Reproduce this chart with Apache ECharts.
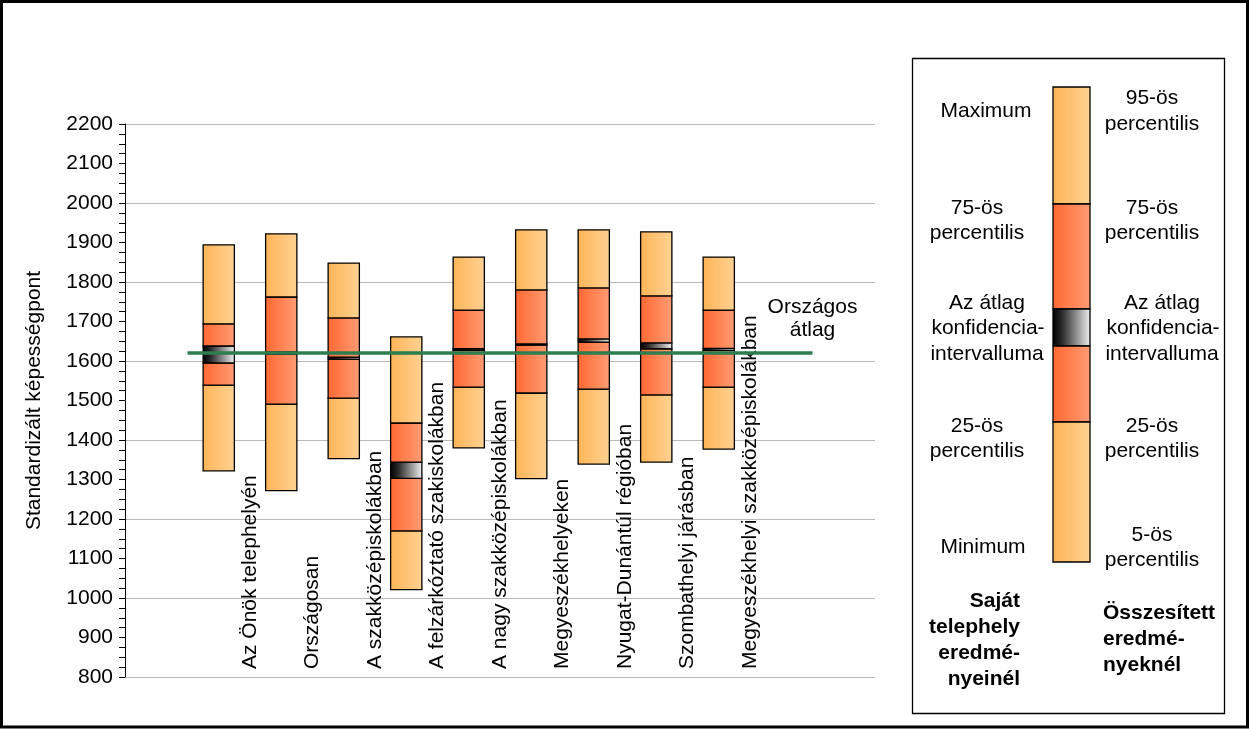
<!DOCTYPE html>
<html>
<head>
<meta charset="utf-8">
<script src="https://cdn.jsdelivr.net/npm/echarts@6/dist/echarts.min.js"></script>
<style>
html,body{margin:0;padding:0;background:#fff;}
#chart{width:1250px;height:729px;}
</style>
</head>
<body>
<div id="chart"></div>
<script>
// ---- data ----
const categories = ['Az Önök telephelyén','Országosan','A szakközépiskolákban','A felzárkóztató szakiskolákban','A nagy szakközépiskolákban','Megyeszékhelyeken','Nyugat-Dunántúl régióban','Szombathelyi járásban','Megyeszékhelyi szakközépiskolákban'];
const minVals    = [1322,1272,1353,1021,1380,1302,1339,1344,1377];
const p25Vals    = [1539,1491,1506,1170,1534,1519,1529,1514,1534];
const ciLowVals  = [1595,1617,1605,1303,1627,1640,1648,1631,1627];
const ciHighVals = [1638,1623,1610,1344,1631,1643,1656,1646,1632];
const p75Vals    = [1694,1762,1709,1443,1729,1780,1785,1765,1729];
const maxVals    = [1894,1922,1848,1661,1863,1932,1932,1927,1863];
const nationalAvg = 1620;
const yTicks = {min: 800, max: 2200, step: 100};

const FONT = "'Liberation Sans', Arial, sans-serif";
const G = echarts.graphic;
const orangeGrad = () => new G.LinearGradient(0,0,1,0,[{offset:0,color:'#FFB457'},{offset:1,color:'#FFD293'}]);
const redGrad = () => new G.LinearGradient(0,0,1,0,[{offset:0,color:'#FF6832'},{offset:1,color:'#FF9C74'}]);
const ciGrad = () => new G.LinearGradient(0,0,1,0,[{offset:0,color:'#000000'},{offset:0.25,color:'#2a2a2a'},{offset:1,color:'#f2f2f2'}]);

const boxData = categories.map((c,i)=>[i+1.5, minVals[i], p25Vals[i], ciLowVals[i], ciHighVals[i], p75Vals[i], maxVals[i]]);

function renderItem(params, api){
  const x = api.value(0);
  const vals = [1,2,3,4,5,6].map(k=>api.value(k));
  const w = api.size([1,0])[0]*0.5;
  const fills = [orangeGrad(), redGrad(), ciGrad(), redGrad(), orangeGrad()];
  const children = [];
  for(let s=0;s<5;s++){
    const top = api.coord([x, vals[s+1]]);
    const bot = api.coord([x, vals[s]]);
    children.push({type:'rect', shape:{x:top[0]-w/2, y:top[1], width:w, height:bot[1]-top[1]},
      style:{fill:fills[s], stroke:'#000', lineWidth:1.3}});
  }
  return {type:'group', children};
}

// ---- legend panel (graphic) ----
const legendBarX = 1053, legendBarW = 37;
const legendSegs = [[87,204,orangeGrad()],[204,309,redGrad()],[309,346,ciGrad()],[346,422,redGrad()],[422,562,orangeGrad()]];
const graphics = [];
graphics.push({type:'rect', shape:{x:1.5,y:1.5,width:1246,height:725.5}, style:{fill:null, stroke:'#000', lineWidth:3}, z:100});
graphics.push({type:'rect', shape:{x:912.5,y:58.5,width:312,height:655}, style:{fill:'#fff', stroke:'#000', lineWidth:1.3}});
legendSegs.forEach(s=>{
  graphics.push({type:'rect', shape:{x:legendBarX,y:s[0],width:legendBarW,height:s[1]-s[0]}, style:{fill:s[2], stroke:'#000', lineWidth:1.3}, z:10});
});
function txt(t, x, y, align, bold){
  graphics.push({type:'text', x:x, y:y, z:10, style:{text:t, fill:'#000', font:(bold?'bold ':'')+'21px '+FONT, textAlign:align||'center', textVerticalAlign:'middle'}});
}
// left column
txt('Maximum', 986, 111);
txt('75-ös', 977, 208); txt('percentilis', 977, 233);
txt('Az átlag', 987, 303); txt('konfidencia-', 988, 328); txt('intervalluma', 987, 354);
txt('25-ös', 977, 426); txt('percentilis', 977, 451);
txt('Minimum', 983, 547);
txt('Saját', 1020, 601, 'right', true); txt('telephely', 1020, 627, 'right', true);
txt('eredmé-', 1020, 653, 'right', true); txt('nyeinél', 1020, 679, 'right', true);
// right column
txt('95-ös', 1152, 98); txt('percentilis', 1152, 124);
txt('75-ös', 1152, 208); txt('percentilis', 1152, 233);
txt('Az átlag', 1162, 303); txt('konfidencia-', 1163, 328); txt('intervalluma', 1162, 354);
txt('25-ös', 1152, 426); txt('percentilis', 1152, 451);
txt('5-ös', 1152, 535); txt('percentilis', 1152, 560);
txt('Összesített', 1103, 613, 'left', true); txt('eredmé-', 1103, 639, 'left', true); txt('nyeknél', 1103, 665, 'left', true);

const chart = echarts.init(document.getElementById('chart'), null, {renderer:'canvas'});
chart.setOption({
  backgroundColor:'#fff',
  animation:false,
  textStyle:{fontFamily:FONT},
  grid:{left:125, top:124, width:750, height:553, containLabel:false},
  xAxis:{
    type:'value', min:0, max:12, interval:1,
    axisLine:{show:false}, axisTick:{show:false}, splitLine:{show:false},
    axisLabel:{
      show:true, rotate:90, align:'left', verticalAlign:'middle', margin:-8,
      color:'#000', fontSize:21, fontFamily:FONT,
      showMinLabel:true, showMaxLabel:true,
      formatter:v=>{const k=Math.round(v)-2; return categories[k]||'';}
    }
  },
  yAxis:[{
    type:'value', min:yTicks.min, max:yTicks.max, interval:yTicks.step,
    name:'Standardizált képességpont', nameLocation:'middle', nameGap:80,
    nameTextStyle:{color:'#000', fontSize:21, fontFamily:FONT},
    axisLine:{show:true, lineStyle:{color:'#000', width:1}},
    axisTick:{show:true, length:6, lineStyle:{color:'#000'}},
    minorTick:{show:true, splitNumber:4, length:6, lineStyle:{color:'#000'}},
    axisLabel:{color:'#000', fontSize:21, fontFamily:FONT, margin:12, formatter:v=>String(v)},
    splitLine:{show:false}
  },{
    type:'value', min:yTicks.min, max:yTicks.max, interval:yTicks.step*2, position:'left',
    axisLine:{show:false}, axisTick:{show:false}, axisLabel:{show:false},
    splitLine:{show:true, lineStyle:{color:'#b9b9b9', width:1}}
  }],
  graphic: graphics,
  series:[{
    type:'custom', renderItem:renderItem, data:boxData, encode:{x:0, y:[1,2,3,4,5,6]}, z:2
  },{
    type:'line',
    data:[{value:[1,nationalAvg]},{value:[11,nationalAvg], label:{show:true, position:'top', distance:11, formatter:'Országos\nátlag', color:'#000', fontSize:21, lineHeight:23, fontFamily:FONT, align:'center'}}],
    symbol:'circle', symbolSize:0, showSymbol:true, showAllSymbol:true,
    itemStyle:{color:'#2E7D4F'},
    lineStyle:{color:'#2E7D4F', width:3.5}, z:5, silent:true
  }]
});
</script>
</body>
</html>
